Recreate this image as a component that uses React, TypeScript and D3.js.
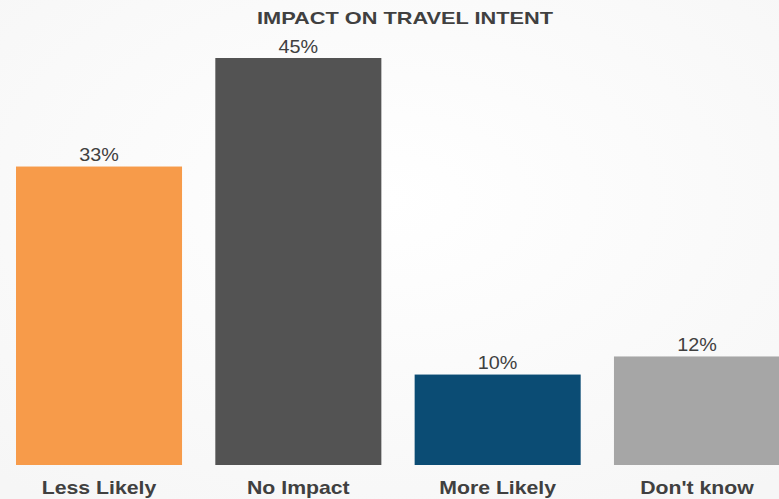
import React from "react";
import * as d3 from "d3";

const categories = ["Less Likely", "No Impact", "More Likely", "Don't know"];
const values = [33, 45, 10, 12];
const colors = ["#F79B4A", "#535353", "#0B4C74", "#A6A6A6"];
const title = "IMPACT ON TRAVEL INTENT";

const W = 779;
const H = 499;

export default function App() {
  const x = d3.scaleBand<string>().domain(categories).range([16, 780]).paddingInner(0.167).paddingOuter(0);
  const y = d3.scaleLinear().domain([0, 45]).range([465, 58]);
  const font = "Arial, 'Liberation Sans', Helvetica, sans-serif";
  return (
    <svg width={W} height={H} style={{ position: "absolute", left: 0, top: 0, display: "block" }}>
      <defs>
        <radialGradient id="bg" cx="50%" cy="40%" r="75%">
          <stop offset="0%" stopColor="#ffffff" />
          <stop offset="100%" stopColor="#f6f6f6" />
        </radialGradient>
      </defs>
      <rect x={0} y={0} width={W} height={H} fill="url(#bg)" />
      <text x={405} y={24} textAnchor="middle" fontFamily={font} fontWeight="bold" fontSize={17} fill="#404040"
        textLength={296} lengthAdjust="spacingAndGlyphs">{title}</text>
      {categories.map((c, i) => {
        const bx = x(c)!;
        const bw = x.bandwidth();
        const cx = bx + bw / 2;
        const ty = y(values[i]) - 5.5;
        return (
          <g key={c}>
            <rect x={bx} y={y(values[i])} width={bw} height={y(0) - y(values[i])} fill={colors[i]} />
            <text transform={`translate(${cx},${ty}) scale(1.1,1)`} textAnchor="middle" fontFamily={font} fontSize={18} fill="#404040">
              {values[i]}%
            </text>
            <text transform={`translate(${cx},494) scale(1.18,1)`} textAnchor="middle" fontFamily={font} fontWeight="bold" fontSize={18} fill="#404040">
              {c}
            </text>
          </g>
        );
      })}
    </svg>
  );
}
